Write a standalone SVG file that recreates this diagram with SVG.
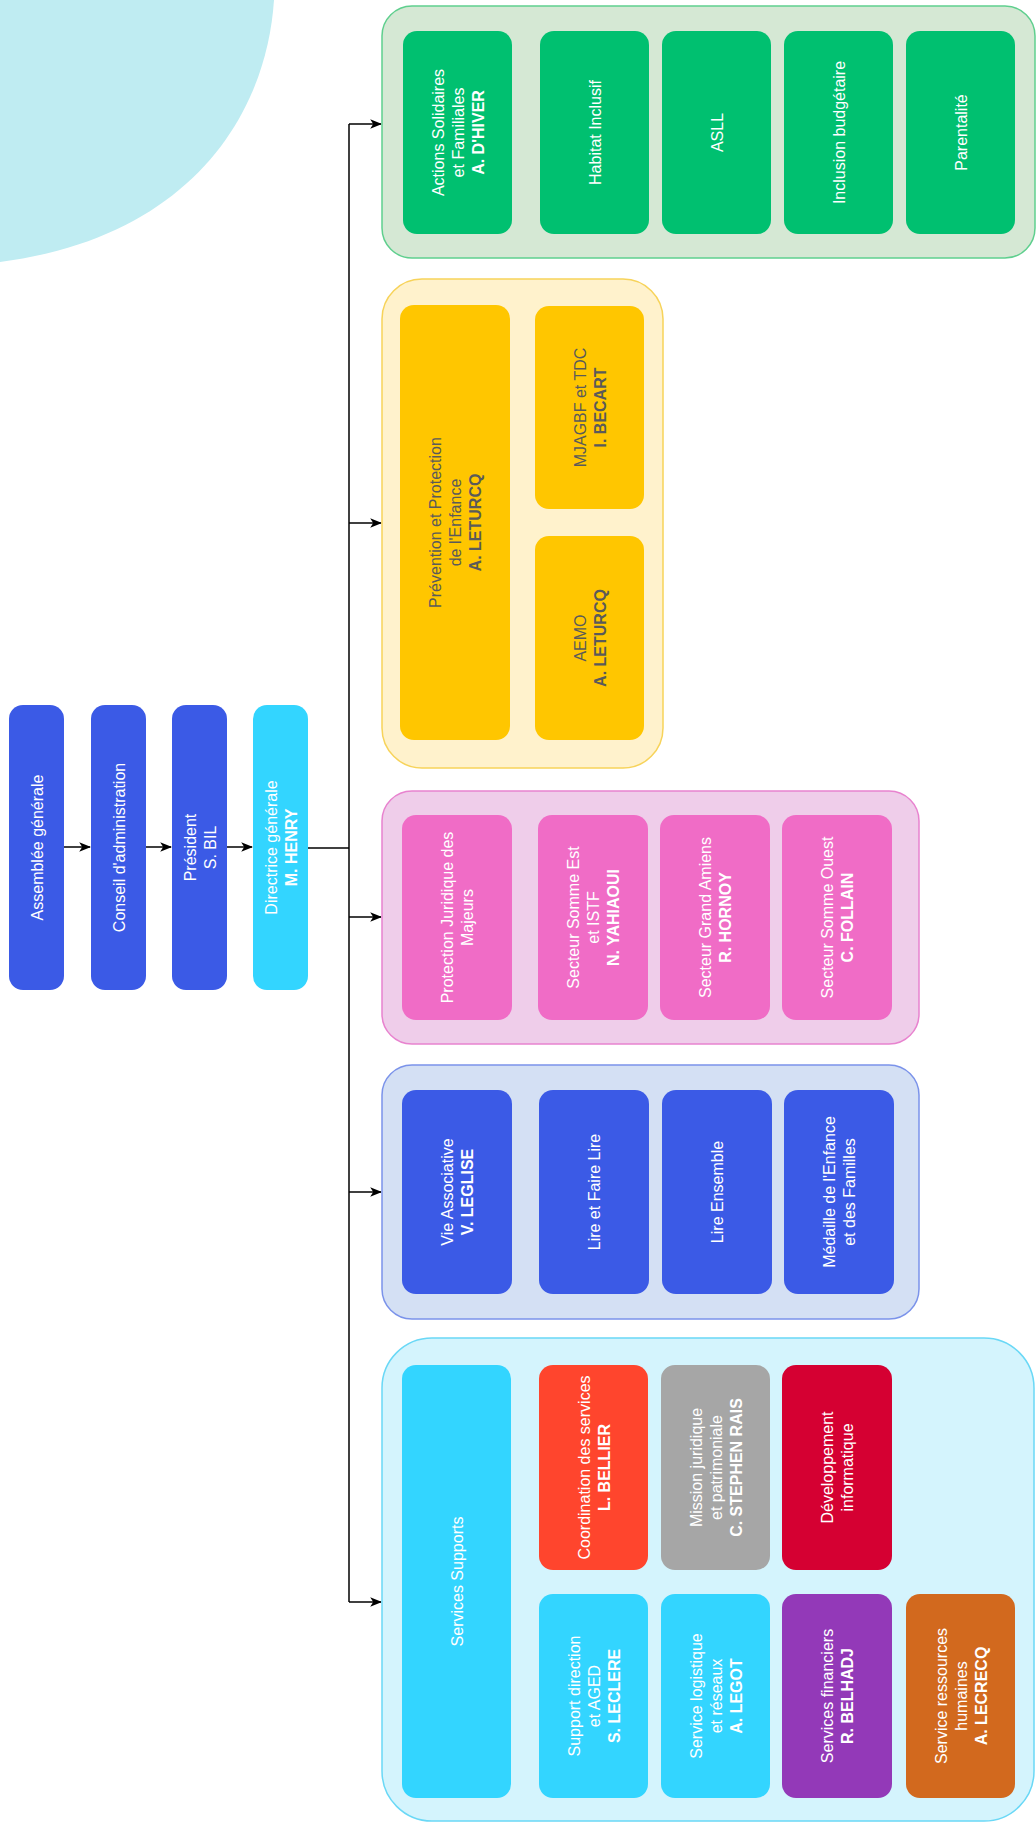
<svg xmlns="http://www.w3.org/2000/svg" width="1036" height="1823" viewBox="0 0 1036 1823">
<defs>
<marker id="arr" viewBox="0 0 10 10" refX="9" refY="5" markerWidth="12" markerHeight="12" markerUnits="userSpaceOnUse" orient="auto">
<path d="M0,1 L10,5 L0,9 L2.5,5 Z" fill="#000"/>
</marker>
<style>
text{font-family:"Liberation Sans",Arial,sans-serif;font-size:16px;fill:#fff;text-anchor:middle}
.b{font-weight:bold}
.dk{fill:#5a5a5a}
.box{rx:14px;ry:14px}
.blue{fill:#3b5ae6}
.cyan{fill:#33d5ff}
.green{fill:#00c070}
.yel{fill:#ffc600}
.pink{fill:#f06cc6}
.c{stroke-width:1.5}
.line{fill:none;stroke:#000;stroke-width:1.5}
</style>
</defs>
<rect width="1036" height="1823" fill="#fff"/>
<path d="M0,0 H274 C266,120 185,238 0,262 Z" fill="#bfecf2"/>

<g id="connectors">
<path class="line" d="M64,847 H90" marker-end="url(#arr)"/>
<path class="line" d="M146,847 H171" marker-end="url(#arr)"/>
<path class="line" d="M227,847 H252" marker-end="url(#arr)"/>
<path class="line" d="M308,848 H349"/>
<path class="line" d="M349,124 V1602"/>
<path class="line" d="M349,124 H381" marker-end="url(#arr)"/>
<path class="line" d="M349,523 H381" marker-end="url(#arr)"/>
<path class="line" d="M349,917 H381" marker-end="url(#arr)"/>
<path class="line" d="M349,1192 H381" marker-end="url(#arr)"/>
<path class="line" d="M349,1602 H381" marker-end="url(#arr)"/>
<path class="line" d="M510,408 H534" marker-end="url(#arr)"/>
</g>

<g id="containers">
<rect id="grp-green" class="c" x="382" y="6" width="653" height="252" rx="30" fill="#d5e8d4" stroke="#5fcf8e"/>
<rect id="grp-yellow" class="c" x="382" y="279" width="281" height="489" rx="40" fill="#fff2cc" stroke="#f7d35a"/>
<rect id="grp-pink" class="c" x="382" y="791" width="537" height="253" rx="30" fill="#efcdea" stroke="#e883cf"/>
<rect id="grp-blue" class="c" x="382" y="1065" width="537" height="254" rx="30" fill="#d4e0f4" stroke="#7b93ea"/>
<rect id="grp-cyan" class="c" x="382" y="1338" width="652" height="483" rx="50" fill="#d4f4fd" stroke="#6ad8f6"/>
</g>

<g id="n-assemblee"><rect class="box blue" x="9" y="705" width="55" height="285"/>
<text transform="translate(36.5,847.5) rotate(-90)"><tspan x="0" y="6">Assemblée générale</tspan></text></g>
<g id="n-conseil"><rect class="box blue" x="91" y="705" width="55" height="285"/>
<text transform="translate(118.5,847.5) rotate(-90)"><tspan x="0" y="6">Conseil d'administration</tspan></text></g>
<g id="n-president"><rect class="box blue" x="172" y="705" width="55" height="285"/>
<text transform="translate(199.5,847.5) rotate(-90)"><tspan x="0" y="-4">Président</tspan><tspan x="0" y="16">S. BIL</tspan></text></g>
<g id="n-directrice"><rect class="box cyan" x="253" y="705" width="55" height="285"/>
<text transform="translate(280.5,847.5) rotate(-90)"><tspan x="0" y="-4">Directrice générale</tspan><tspan class="b" x="0" y="16">M. HENRY</tspan></text></g>

<g id="n-actions"><rect class="box green" x="403" y="31" width="109" height="203"/>
<text transform="translate(457.5,132.5) rotate(-90)"><tspan x="0" y="-14">Actions Solidaires</tspan><tspan x="0" y="6">et Familiales</tspan><tspan class="b" x="0" y="26">A. D'HIVER</tspan></text></g>
<g id="n-habitat"><rect class="box green" x="540" y="31" width="109" height="203"/>
<text transform="translate(594.5,132.5) rotate(-90)"><tspan x="0" y="6">Habitat Inclusif</tspan></text></g>
<g id="n-asll"><rect class="box green" x="662" y="31" width="109" height="203"/>
<text transform="translate(716.5,132.5) rotate(-90)"><tspan x="0" y="6">ASLL</tspan></text></g>
<g id="n-inclusion"><rect class="box green" x="784" y="31" width="109" height="203"/>
<text transform="translate(838.5,132.5) rotate(-90)"><tspan x="0" y="6">Inclusion budgétaire</tspan></text></g>
<g id="n-parentalite"><rect class="box green" x="906" y="31" width="109" height="203"/>
<text transform="translate(960.5,132.5) rotate(-90)"><tspan x="0" y="6">Parentalité</tspan></text></g>

<g id="n-prevention"><rect class="box yel" x="400" y="305" width="110" height="435"/>
<text class="dk" transform="translate(455,522.5) rotate(-90)"><tspan x="0" y="-14">Prévention et Protection</tspan><tspan x="0" y="6">de l'Enfance</tspan><tspan class="b" x="0" y="26">A. LETURCQ</tspan></text></g>
<g id="n-mjagbf"><rect class="box yel" x="535" y="306" width="109" height="203"/>
<text class="dk" transform="translate(589.5,407.5) rotate(-90)"><tspan x="0" y="-4">MJAGBF et TDC</tspan><tspan class="b" x="0" y="16">I. BECART</tspan></text></g>
<g id="n-aemo"><rect class="box yel" x="535" y="536" width="109" height="204"/>
<text class="dk" transform="translate(589.5,638) rotate(-90)"><tspan x="0" y="-4">AEMO</tspan><tspan class="b" x="0" y="16">A. LETURCQ</tspan></text></g>

<g id="n-pjm"><rect class="box pink" x="402" y="815" width="110" height="205"/>
<text transform="translate(457,917.5) rotate(-90)"><tspan x="0" y="-4">Protection Juridique des</tspan><tspan x="0" y="16">Majeurs</tspan></text></g>
<g id="n-somme-est"><rect class="box pink" x="538" y="815" width="110" height="205"/>
<text transform="translate(593,917.5) rotate(-90)"><tspan x="0" y="-14">Secteur Somme Est</tspan><tspan x="0" y="6">et ISTF</tspan><tspan class="b" x="0" y="26">N. YAHIAOUI</tspan></text></g>
<g id="n-grand-amiens"><rect class="box pink" x="660" y="815" width="110" height="205"/>
<text transform="translate(715,917.5) rotate(-90)"><tspan x="0" y="-4">Secteur Grand Amiens</tspan><tspan class="b" x="0" y="16">R. HORNOY</tspan></text></g>
<g id="n-somme-ouest"><rect class="box pink" x="782" y="815" width="110" height="205"/>
<text transform="translate(837,917.5) rotate(-90)"><tspan x="0" y="-4">Secteur Somme Ouest</tspan><tspan class="b" x="0" y="16">C. FOLLAIN</tspan></text></g>

<g id="n-vie-asso"><rect class="box blue" x="402" y="1090" width="110" height="204"/>
<text transform="translate(457,1192) rotate(-90)"><tspan x="0" y="-4">Vie Associative</tspan><tspan class="b" x="0" y="16">V. LEGLISE</tspan></text></g>
<g id="n-lire-faire"><rect class="box blue" x="539" y="1090" width="110" height="204"/>
<text transform="translate(594,1192) rotate(-90)"><tspan x="0" y="6">Lire et Faire Lire</tspan></text></g>
<g id="n-lire-ens"><rect class="box blue" x="662" y="1090" width="110" height="204"/>
<text transform="translate(717,1192) rotate(-90)"><tspan x="0" y="6">Lire Ensemble</tspan></text></g>
<g id="n-medaille"><rect class="box blue" x="784" y="1090" width="110" height="204"/>
<text transform="translate(839,1192) rotate(-90)"><tspan x="0" y="-4">Médaille de l'Enfance</tspan><tspan x="0" y="16">et des Familles</tspan></text></g>

<g id="n-services-supports"><rect class="box cyan" x="402" y="1365" width="109" height="433"/>
<text transform="translate(456.5,1581.5) rotate(-90)"><tspan x="0" y="6">Services Supports</tspan></text></g>
<g id="n-coordination"><rect class="box" x="539" y="1365" width="109" height="205" fill="#ff452d"/>
<text transform="translate(593.5,1467.5) rotate(-90)"><tspan x="0" y="-4">Coordination des services</tspan><tspan class="b" x="0" y="16">L. BELLIER</tspan></text></g>
<g id="n-mission"><rect class="box" x="661" y="1365" width="109" height="205" fill="#a6a6a6"/>
<text transform="translate(715.5,1467.5) rotate(-90)"><tspan x="0" y="-14">Mission juridique</tspan><tspan x="0" y="6">et patrimoniale</tspan><tspan class="b" x="0" y="26">C. STEPHEN RAIS</tspan></text></g>
<g id="n-dev-info"><rect class="box" x="782" y="1365" width="110" height="205" fill="#d50032"/>
<text transform="translate(837,1467.5) rotate(-90)"><tspan x="0" y="-4">Développement</tspan><tspan x="0" y="16">informatique</tspan></text></g>
<g id="n-support-dir"><rect class="box cyan" x="539" y="1594" width="109" height="204"/>
<text transform="translate(593.5,1696) rotate(-90)"><tspan x="0" y="-14">Support direction</tspan><tspan x="0" y="6">et AGED</tspan><tspan class="b" x="0" y="26">S. LECLERE</tspan></text></g>
<g id="n-logistique"><rect class="box cyan" x="661" y="1594" width="109" height="204"/>
<text transform="translate(715.5,1696) rotate(-90)"><tspan x="0" y="-14">Service logistique</tspan><tspan x="0" y="6">et réseaux</tspan><tspan class="b" x="0" y="26">A. LEGOT</tspan></text></g>
<g id="n-financiers"><rect class="box" x="782" y="1594" width="110" height="204" fill="#9339b8"/>
<text transform="translate(837,1696) rotate(-90)"><tspan x="0" y="-4">Services financiers</tspan><tspan class="b" x="0" y="16">R. BELHADJ</tspan></text></g>
<g id="n-rh"><rect class="box" x="906" y="1594" width="109" height="204" fill="#d2691e"/>
<text transform="translate(960.5,1696) rotate(-90)"><tspan x="0" y="-14">Service ressources</tspan><tspan x="0" y="6">humaines</tspan><tspan class="b" x="0" y="26">A. LECRECQ</tspan></text></g>
</svg>
